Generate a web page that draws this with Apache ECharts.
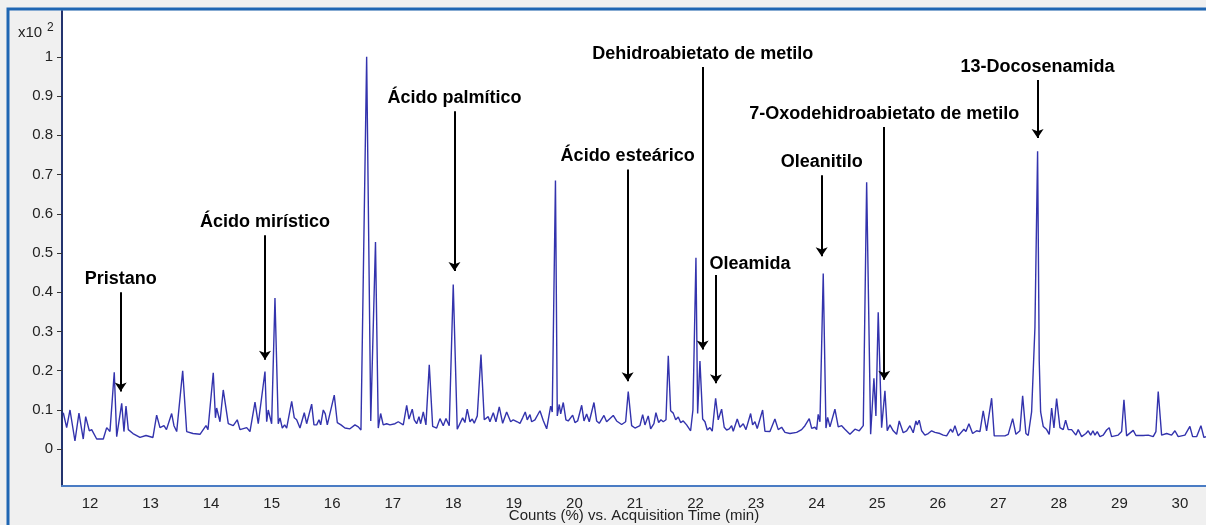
<!DOCTYPE html>
<html>
<head>
<meta charset="utf-8">
<script src="https://cdn.jsdelivr.net/npm/echarts@6/dist/echarts.min.js"></script>
<style>
  html, body { margin: 0; padding: 0; background: #f0f0f0; }
  #chart { width: 1206px; height: 525px; }
</style>
</head>
<body>
<div id="chart"></div>
<script>
// TIC chromatogram: retention time (min) vs. relative counts (x10^2 %)
const retentionTime = [
  11.559, 11.615, 11.670, 11.752, 11.818, 11.889, 11.929, 11.989, 12.028, 12.111,
  12.220, 12.276, 12.330, 12.401, 12.441, 12.524, 12.561, 12.595, 12.633, 12.710,
  12.826, 12.925, 13.040, 13.101, 13.156, 13.222, 13.263, 13.349, 13.387, 13.432,
  13.531, 13.597, 13.701, 13.817, 13.916, 13.949, 14.036, 14.072, 14.092, 14.147,
  14.201, 14.284, 14.366, 14.432, 14.477, 14.588, 14.642, 14.725, 14.779, 14.890,
  14.918, 14.944, 15.000, 15.055, 15.109, 15.138, 15.176, 15.215, 15.248, 15.331,
  15.374, 15.413, 15.468, 15.539, 15.578, 15.661, 15.699, 15.744, 15.782, 15.810,
  15.853, 15.886, 15.919, 16.034, 16.084, 16.145, 16.211, 16.293, 16.376, 16.431,
  16.475, 16.569, 16.637, 16.715, 16.761, 16.800, 16.843, 16.899, 16.954, 17.037,
  17.091, 17.174, 17.230, 17.268, 17.322, 17.355, 17.395, 17.433, 17.461, 17.504,
  17.548, 17.603, 17.659, 17.725, 17.780, 17.834, 17.879, 17.933, 17.999, 18.065,
  18.154, 18.192, 18.230, 18.275, 18.313, 18.346, 18.396, 18.457, 18.511, 18.577,
  18.605, 18.660, 18.704, 18.759, 18.815, 18.881, 18.947, 18.990, 19.056, 19.101,
  19.145, 19.188, 19.221, 19.266, 19.294, 19.348, 19.431, 19.485, 19.542, 19.608,
  19.634, 19.687, 19.717, 19.750, 19.773, 19.816, 19.860, 19.898, 19.971, 20.009,
  20.053, 20.120, 20.158, 20.202, 20.245, 20.323, 20.367, 20.410, 20.488, 20.532,
  20.641, 20.697, 20.780, 20.846, 20.889, 20.945, 21.000, 21.082, 21.127, 21.165,
  21.219, 21.259, 21.313, 21.346, 21.391, 21.429, 21.467, 21.512, 21.550, 21.589,
  21.632, 21.672, 21.715, 21.754, 21.797, 21.853, 21.919, 21.957, 22.007, 22.035,
  22.073, 22.118, 22.156, 22.194, 22.238, 22.276, 22.332, 22.375, 22.431, 22.474,
  22.514, 22.557, 22.596, 22.623, 22.689, 22.734, 22.788, 22.833, 22.910, 22.943,
  22.981, 23.019, 23.108, 23.146, 23.229, 23.311, 23.366, 23.422, 23.477, 23.559,
  23.670, 23.752, 23.807, 23.878, 23.918, 23.972, 24.000, 24.026, 24.055, 24.109,
  24.154, 24.182, 24.220, 24.302, 24.357, 24.413, 24.467, 24.550, 24.633, 24.704,
  24.770, 24.826, 24.892, 24.946, 24.979, 25.017, 25.073, 25.128, 25.166, 25.210,
  25.265, 25.321, 25.364, 25.430, 25.486, 25.541, 25.595, 25.640, 25.661, 25.694,
  25.734, 25.788, 25.843, 25.899, 25.954, 26.036, 26.091, 26.147, 26.213, 26.246,
  26.284, 26.338, 26.432, 26.465, 26.515, 26.576, 26.642, 26.697, 26.751, 26.807,
  26.890, 26.933, 27.027, 27.109, 27.164, 27.237, 27.291, 27.357, 27.402, 27.456,
  27.494, 27.550, 27.605, 27.649, 27.676, 27.699, 27.742, 27.798, 27.841, 27.881,
  27.919, 27.963, 28.018, 28.072, 28.112, 28.155, 28.211, 28.282, 28.320, 28.376,
  28.447, 28.485, 28.525, 28.563, 28.596, 28.634, 28.678, 28.733, 28.789, 28.832,
  28.871, 28.980, 29.037, 29.075, 29.119, 29.228, 29.273, 29.393, 29.476, 29.558,
  29.603, 29.641, 29.697, 29.780, 29.862, 29.917, 29.971, 30.082, 30.164, 30.209,
  30.275, 30.346, 30.396, 30.429
];

const abundance = [
  0.093, 0.055, 0.100, 0.021, 0.092, 0.026, 0.083, 0.047, 0.050, 0.026,
  0.026, 0.055, 0.045, 0.196, 0.032, 0.117, 0.045, 0.110, 0.050, 0.040,
  0.030, 0.035, 0.030, 0.087, 0.055, 0.060, 0.050, 0.091, 0.060, 0.045,
  0.200, 0.045, 0.040, 0.038, 0.060, 0.050, 0.195, 0.080, 0.105, 0.070,
  0.151, 0.065, 0.060, 0.075, 0.050, 0.055, 0.045, 0.120, 0.065, 0.198,
  0.070, 0.100, 0.065, 0.385, 0.065, 0.080, 0.054, 0.062, 0.054, 0.122,
  0.080, 0.075, 0.054, 0.093, 0.065, 0.115, 0.062, 0.062, 0.075, 0.062,
  0.100, 0.090, 0.062, 0.138, 0.068, 0.062, 0.054, 0.052, 0.062, 0.057,
  0.049, 1.000, 0.072, 0.528, 0.054, 0.091, 0.062, 0.065, 0.062, 0.065,
  0.070, 0.062, 0.112, 0.077, 0.102, 0.075, 0.065, 0.083, 0.065, 0.095,
  0.062, 0.215, 0.058, 0.054, 0.078, 0.060, 0.078, 0.060, 0.420, 0.051,
  0.080, 0.068, 0.102, 0.070, 0.077, 0.066, 0.085, 0.241, 0.075, 0.083,
  0.070, 0.093, 0.070, 0.108, 0.066, 0.095, 0.070, 0.075, 0.070, 0.066,
  0.080, 0.095, 0.075, 0.088, 0.070, 0.075, 0.098, 0.073, 0.052, 0.110,
  0.095, 0.685, 0.085, 0.114, 0.090, 0.119, 0.075, 0.072, 0.087, 0.068,
  0.072, 0.112, 0.072, 0.090, 0.070, 0.119, 0.072, 0.066, 0.086, 0.070,
  0.086, 0.072, 0.063, 0.070, 0.147, 0.060, 0.054, 0.060, 0.088, 0.062,
  0.085, 0.052, 0.065, 0.093, 0.068, 0.075, 0.070, 0.075, 0.238, 0.098,
  0.092, 0.075, 0.082, 0.068, 0.072, 0.062, 0.047, 0.100, 0.488, 0.091,
  0.225, 0.077, 0.070, 0.049, 0.055, 0.046, 0.130, 0.075, 0.102, 0.056,
  0.049, 0.052, 0.060, 0.046, 0.077, 0.056, 0.065, 0.050, 0.091, 0.062,
  0.070, 0.053, 0.100, 0.046, 0.045, 0.077, 0.050, 0.056, 0.043, 0.040,
  0.043, 0.050, 0.060, 0.078, 0.053, 0.056, 0.050, 0.089, 0.070, 0.448,
  0.054, 0.081, 0.057, 0.102, 0.057, 0.060, 0.051, 0.038, 0.051, 0.047,
  0.060, 0.680, 0.038, 0.181, 0.085, 0.349, 0.055, 0.149, 0.047, 0.062,
  0.047, 0.038, 0.072, 0.042, 0.047, 0.060, 0.042, 0.072, 0.062, 0.074,
  0.047, 0.036, 0.040, 0.047, 0.043, 0.040, 0.036, 0.034, 0.051, 0.043,
  0.060, 0.034, 0.051, 0.045, 0.065, 0.040, 0.047, 0.045, 0.098, 0.047,
  0.130, 0.034, 0.034, 0.034, 0.038, 0.078, 0.038, 0.047, 0.136, 0.040,
  0.035, 0.095, 0.310, 0.759, 0.225, 0.095, 0.058, 0.050, 0.038, 0.105,
  0.054, 0.129, 0.055, 0.050, 0.074, 0.050, 0.050, 0.036, 0.050, 0.032,
  0.040, 0.047, 0.036, 0.047, 0.036, 0.045, 0.032, 0.036, 0.049, 0.055,
  0.032, 0.036, 0.045, 0.126, 0.034, 0.048, 0.035, 0.035, 0.036, 0.032,
  0.045, 0.147, 0.036, 0.040, 0.036, 0.047, 0.032, 0.036, 0.058, 0.032,
  0.032, 0.060, 0.030, 0.032
];

// Axis tick labels
const timeTicks = [12, 13, 14, 15, 16, 17, 18, 19, 20, 21, 22, 23, 24, 25, 26, 27, 28, 29, 30];
const countTicks = [0, 0.1, 0.2, 0.3, 0.4, 0.5, 0.6, 0.7, 0.8, 0.9, 1];

// Identified compounds and their retention times (min)
const compoundNames = [
  'Pristano', 'Ácido mirístico', 'Ácido palmítico', 'Ácido esteárico',
  'Dehidroabietato de metilo', 'Oleamida', '7-Oxodehidroabietato de metilo',
  'Oleanitilo', '13-Docosenamida'
];
const compoundTimes = [12.507, 14.890, 18.019, 20.879, 22.118, 22.337, 25.116, 24.083, 27.649];

// Callout arrows: top and tip heights in axis units
const arrowTop = [0.400, 0.545, 0.861, 0.713, 0.974, 0.444, 0.821, 0.698, 0.941];
const arrowTip = [0.136, 0.217, 0.443, 0.162, 0.243, 0.157, 0.166, 0.481, 0.782];

const FONT = 'Arial, "Liberation Sans", sans-serif';
const HEAD = 0.011; // half arrow-head height, in axis units

const calloutLines = compoundNames.map((name, i) => {
  const start = { coord: [compoundTimes[i], arrowTop[i]], name: name };
  if (name === 'Oleamida') start.label = { offset: [34, 2] };
  return [start, { coord: [compoundTimes[i], arrowTip[i] + HEAD] }];
});

const chart = echarts.init(document.getElementById('chart'), null, { renderer: 'canvas' });

chart.setOption({
  animation: false,
  backgroundColor: '#f0f0f0',
  textStyle: { fontFamily: FONT },
  grid: {
    left: 62, right: 0, top: 11, bottom: 39,
    containLabel: false,
    outerBoundsMode: 'none',
    show: true, backgroundColor: '#ffffff', borderWidth: 0
  },
  xAxis: {
    type: 'value',
    min: 11.538, max: 30.43,
    name: 'Counts (%) vs. Acquisition Time (min)',
    nameLocation: 'middle',
    nameGap: 30,
    nameMoveOverlap: false,
    nameTextStyle: { fontSize: 15, color: '#222', fontFamily: FONT, verticalAlign: 'middle' },
    axisLine: { show: true, onZero: false, lineStyle: { color: '#4a7cc4', width: 2 } },
    axisTick: { show: false },
    splitLine: { show: false },
    axisLabel: {
      customValues: timeTicks,
      fontSize: 15, color: '#222', margin: 10, fontFamily: FONT,
      formatter: v => String(v)
    }
  },
  yAxis: {
    type: 'value',
    min: -0.0937, max: 1.1167,
    axisLine: { show: true, onZero: false, lineStyle: { color: '#23336e', width: 2 } },
    axisTick: {
      show: true, customValues: countTicks, length: 5, inside: false,
      lineStyle: { color: '#333', width: 1 }
    },
    splitLine: { show: false },
    axisLabel: {
      customValues: countTicks,
      fontSize: 15, color: '#222', margin: 9, fontFamily: FONT,
      formatter: v => String(v)
    }
  },
  graphic: [
    {
      type: 'rect', z: 100, silent: true,
      shape: { x: 8, y: 9, width: 1220, height: 540 },
      style: { fill: 'none', stroke: '#1f66b3', lineWidth: 3 }
    },
    {
      type: 'text', left: 18, top: 25, z: 100,
      style: { text: 'x10', fontSize: 15, fill: '#222', fontFamily: FONT }
    },
    {
      type: 'text', left: 47, top: 22, z: 100,
      style: { text: '2', fontSize: 12, fill: '#222', fontFamily: FONT }
    }
  ],
  series: [{
    type: 'line',
    data: retentionTime.map((t, i) => [t, abundance[i]]),
    showSymbol: false,
    symbol: 'none',
    smooth: false,
    lineStyle: { color: '#3333ad', width: 1.4 },
    silent: true,
    markLine: {
      silent: true,
      animation: false,
      symbol: ['none', 'arrow'],
      symbolSize: 9,
      lineStyle: { color: '#000', width: 2, type: 'solid' },
      label: {
        show: true,
        position: 'start',
        distance: 4,
        formatter: p => p.name,
        fontSize: 18,
        fontWeight: 'bold',
        color: '#000',
        fontFamily: FONT
      },
      emphasis: { disabled: true },
      data: calloutLines
    }
  }]
});
</script>
</body>
</html>
